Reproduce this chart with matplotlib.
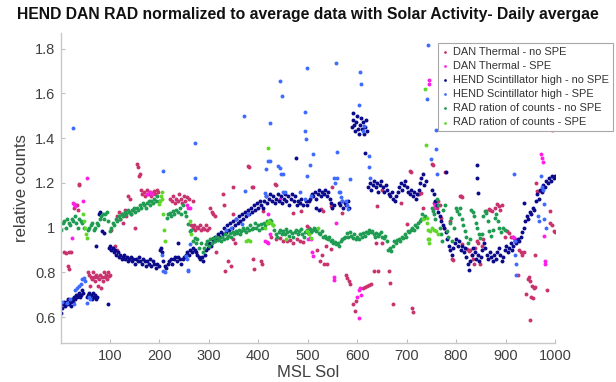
import matplotlib
matplotlib.use("Agg")
import matplotlib.pyplot as plt

# ---------------- data ----------------
hend_nospe_sol = [2,3,5,7,9,11,13,15,17,19,21,23,25,27,29,31,33,35,37,39,41,43,45,53,55,57,59,61,63,65,67,69,71,73,
    72,77,80,84,87,96,
    98,101,103,106,108,111,113,116,118,121,124,126,129,131,134,137,139,142,145,147,150,153,156,158,161,164,167,170,172,175,178,181,184,187,190,193,196,199,
    201,203,205,208,211,214,217,220,223,226,229,232,235,238,241,244,247,250,237,
    253,256,259,262,265,268,271,274,277,280,283,286,289,292,295,
    298,301,304,307,310,313,316,319,322,325,328,331,334,337,340,343,346,349,352,355,358,361,364,367,370,373,376,379,382,385,388,391,394,397,400,403,406,409,
    412,415,418,421,424,427,430,433,436,439,442,445,448,451,454,457,460,463,466,469,472,475,478,481,484,487,490,496,499,502,505,
    508,511,514,517,520,523,526,529,532,535,538,541,544,547,550,553,516,522,
    563,566,569,572,575,578,581,584,
    589,591,592,594,596,598,600,602,604,606,608,610,612,614,616,618,620,477,615,
    622,625,628,631,634,637,640,643,646,649,652,655,658,661,664,667,670,673,676,679,682,685,688,691,694,697,700,703,706,709,712,715,718,721,724,727,730,733,736,739,
    752,755,758,761,764,767,770,773,776,779,782,785,788,791,794,797,800,803,806,809,812,815,818,821,824,826,829,832,835,838,841,844,847,850,853,856,859,862,865,868,871,874,877,880,883,886,889,892,895,898,901,904,907,910,913,916,919,922,925,928,931,934,937,940,943,946,949,952,955,958,961,964,967,970,973,976,979,982,985,988,991,994,997,1000,
    779,842,843,844,937]
hend_nospe_val = [0.62,0.64,0.66,0.67,0.65,0.67,0.66,0.68,0.66,0.67,0.65,0.68,0.67,0.69,0.68,0.70,0.69,0.70,0.71,0.69,0.70,0.72,0.71,0.69,0.70,0.71,0.69,0.70,0.68,0.71,0.69,0.70,0.68,0.69,
    0.92,1.06,1.07,0.985,0.975,0.66,
    0.91,0.92,0.90,0.91,0.89,0.90,0.88,0.89,0.87,0.88,0.86,0.87,0.88,0.86,0.87,0.85,0.86,0.87,0.85,0.86,0.84,0.86,0.85,0.87,0.85,0.84,0.86,0.85,0.83,0.85,0.84,0.86,0.83,0.85,0.84,0.82,0.84,0.83,
    0.90,0.91,0.89,0.85,0.83,0.82,0.84,0.85,0.86,0.84,0.86,0.87,0.85,0.87,0.86,0.84,0.86,0.87,0.93,
    0.88,0.89,0.88,0.90,0.89,0.91,0.90,0.89,0.88,0.87,0.86,0.87,0.85,0.88,0.90,
    0.91,0.93,0.92,0.95,0.94,0.96,0.95,0.97,0.96,0.98,0.97,1.00,0.98,1.01,0.99,1.02,1.00,1.03,1.01,1.04,1.02,1.05,1.03,1.06,1.04,1.07,1.05,1.08,1.06,1.09,1.07,1.10,1.08,1.11,1.09,1.12,1.10,1.09,
    1.12,1.14,1.11,1.13,1.15,1.12,1.14,1.11,1.13,1.15,1.12,1.14,1.11,1.13,1.15,1.12,1.14,1.10,1.13,1.15,1.12,1.14,1.10,1.12,1.11,1.13,1.10,1.12,1.10,1.12,1.13,
    1.15,1.14,1.16,1.13,1.15,1.17,1.14,1.16,1.15,1.17,1.14,1.16,1.13,1.11,1.09,1.10,1.09,1.08,
    1.11,1.10,1.12,1.09,1.11,1.10,1.12,1.09,
    1.45,1.48,1.51,1.46,1.43,1.47,1.50,1.44,1.42,1.46,1.49,1.44,1.47,1.42,1.45,1.48,1.43,1.31,1.335,
    1.18,1.20,1.17,1.19,1.21,1.18,1.20,1.16,1.19,1.21,1.18,1.16,1.19,1.17,1.15,1.14,1.16,1.13,1.12,1.14,1.16,1.18,1.20,1.17,1.19,1.21,1.18,1.16,1.15,1.17,1.14,1.16,1.13,1.15,1.17,1.20,1.22,1.24,1.19,1.21,
    1.17,1.15,1.12,1.10,1.07,1.05,1.03,1.01,1.00,0.98,0.95,0.92,0.90,0.88,0.91,0.93,0.95,0.92,0.94,0.90,0.92,0.89,0.91,0.87,0.84,0.81,0.85,0.88,0.91,0.89,0.86,0.88,0.85,0.87,0.90,0.93,0.91,0.88,0.86,0.89,0.87,0.85,0.88,0.86,0.89,0.91,0.88,0.85,0.87,0.90,0.92,0.89,0.91,0.93,0.90,0.92,0.94,0.93,0.95,0.94,0.96,0.98,1.00,1.03,1.05,1.04,1.07,1.06,1.09,1.08,1.12,1.15,1.13,1.17,1.16,1.19,1.18,1.21,1.20,1.22,1.21,1.23,1.22,1.23,
    1.25,1.28,1.22,1.155,1.11]

hend_spe_sol = [4,14,20,25,27,30,33,38,41,44,47,50,54,57,60,
    207,206,208,211,253,255,257,258,262,273,273,335,345,355,367,380,
    371,373,413,415,415,420,423,424,440,444,444,446,448,449,450,455,484,494,494,495,496,498,498,504,510,507,
    553,556,558,559,560,563,567,577,579,581,585,604,605,607,611,613,624,624,625,566,570,
    743,742,760,760,750,762,918,919,920,921,922,972,974,975,977,978,981,968,965]
hend_spe_val = [0.67,0.665,0.68,1.445,0.66,0.72,0.73,0.74,0.75,0.77,0.775,0.76,0.665,0.69,0.68,
    1.253,0.88,0.807,0.80,0.875,0.86,0.81,0.807,0.927,1.38,1.22,0.99,1.0,1.04,1.017,1.06,
    1.50,1.164,1.155,1.26,1.14,1.30,1.466,1.30,1.275,1.655,1.265,1.24,1.59,1.24,1.16,1.16,1.16,1.516,1.13,1.43,1.395,1.714,1.23,1.28,1.33,1.14,
    1.22,1.20,1.734,1.338,1.22,1.16,1.135,1.12,1.10,1.085,1.216,1.55,1.696,1.64,1.43,1.455,1.32,1.27,1.22,1.16,1.12,
    1.816,1.573,1.435,1.35,1.305,1.238,1.24,0.94,0.88,0.84,0.79,1.23,1.18,1.17,1.105,1.04,1.0,1.03,1.05]

dan_nospe_sol = [8,12,17,22,16,18,37,38,28,31,33,36,
    56,58,60,62,64,66,68,70,72,74,76,78,80,82,84,86,88,90,92,94,96,98,100,
    103,106,110,114,
    114,118,121,124,127,130,133,136,140,143,146,150,
    154,156,158,160,
    162,165,168,171,174,177,180,183,186,189,192,195,198,
    222,225,228,231,234,237,240,243,246,249,252,255,260,268,
    264,267,270,273,276,279,282,285,288,291,294,297,300,
    303,306,309,312,314,328,330,332,338,344,349,349,349,352,379,382,387,389,390,392,405,407,409,433,436,470,486,
    425,435,444,450,458,464,470,478,484,490,498,502,518,525,528,532,538,526,530,546,550,537,547,570,
    577,580,583,586,591,595,597,611,615,619,623,627,633,643,641,651,651,638,664,666,672,688,700,706,708,710,712,723,725,730,733,
    751,753,755,758,761,764,767,770,775,778,787,791,793,808,810,812,812,822,826,828,832,834,836,838,842,845,848,852,855,861,866,869,872,878,883,886,889,892,
    898,902,906,910,915,925,928,931,934,937,941,945,947,949,950,951,953,955,958,960,962,964,967,960,983,989,990,993,993,997,999]
dan_nospe_val = [0.89,0.885,0.89,0.89,0.83,0.815,1.19,1.195,1.09,1.10,1.10,1.08,
    0.80,0.79,0.74,0.78,0.77,0.80,0.78,0.76,0.79,0.78,0.74,0.77,0.79,0.73,0.78,0.76,0.80,0.78,0.79,0.77,0.80,0.785,0.79,
    0.99,0.91,0.92,0.90,
    1.05,1.07,1.04,1.06,1.02,1.08,1.05,1.14,1.13,1.06,1.08,1.00,
    1.285,1.27,1.23,1.24,
    1.17,1.15,1.16,1.14,1.17,1.15,1.16,1.14,1.155,1.165,1.15,1.17,1.16,
    1.13,1.12,1.14,1.11,1.13,1.12,1.15,1.13,1.11,1.14,1.12,1.135,1.13,1.12,
    1.01,1.00,1.01,0.99,1.005,1.00,1.01,0.99,1.00,0.995,1.01,0.99,1.00,
    1.09,1.07,1.06,1.05,0.89,1.15,1.10,0.807,0.85,0.83,1.06,1.18,0.95,0.93,1.276,1.27,1.18,1.18,0.86,0.815,0.85,0.84,1.075,1.195,1.19,1.067,1.075,
    0.96,0.95,0.955,0.94,0.94,0.945,0.93,0.95,0.94,0.935,1.007,1.00,0.90,0.85,0.88,0.84,0.84,1.085,1.075,1.097,1.18,0.92,0.905,1.067,
    0.79,0.775,0.76,0.75,0.66,0.63,0.673,0.73,0.735,0.74,0.745,0.75,0.807,0.807,1.097,1.17,0.93,0.93,0.807,0.755,0.66,1.11,1.017,1.253,1.25,0.64,0.625,1.15,1.15,1.155,1.09,
    1.284,1.28,1.11,1.10,1.09,1.12,1.10,1.045,1.00,1.25,1.03,0.86,0.855,1.14,1.14,1.135,0.926,0.905,0.895,0.90,0.88,0.86,0.84,0.91,0.94,0.93,0.84,0.92,0.95,1.075,1.085,1.08,1.075,1.09,1.105,1.095,1.08,1.10,
    0.96,0.985,0.975,0.96,0.96,0.79,0.90,0.89,0.88,0.89,0.705,0.77,0.78,0.59,0.76,0.69,0.74,0.685,0.73,0.735,1.20,1.165,1.165,0.88,0.72,1.02,1.075,1.01,1.435,0.985,0.98]

dan_spe_sol = [24,25,27,29,46,53,175,180,185,255,258,262,414,418,420,420,424,444,500,504,506,508,508,510,553,554,557,599,603,603,605,607,745,746,755,757,915,918,920,972,974,976,977,979,980]
dan_spe_val = [0.955,1.11,1.105,1.097,1.12,1.22,1.15,1.16,1.15,1.10,1.09,1.09,0.94,0.935,0.93,1.06,0.97,1.13,0.95,0.955,0.95,0.89,1.14,0.875,0.78,0.765,1.02,0.69,0.597,0.72,0.73,0.70,1.66,1.64,1.09,1.105,0.96,0.955,0.948,1.33,1.31,1.295,0.963,0.85,0.84]

rad_nospe_sol = [2,5,8,11,14,17,20,23,26,29,32,35,38,41,44,47,55,58,61,64,67,70,73,76,79,82,85,88,91,94,97,100,103,106,109,112,115,118,121,124,127,130,133,136,139,142,145,148,151,154,157,160,163,166,169,172,175,178,181,184,187,190,193,196,199,
    215,218,221,224,227,230,234,237,241,244,247,251,254,258,261,264,268,271,274,277,281,284,288,291,294,297,300,303,306,309,312,315,318,321,324,327,330,333,336,339,342,345,348,351,354,357,360,363,366,369,372,375,378,381,384,387,390,393,396,399,402,405,408,411,
    414,417,420,423,426,429,432,435,438,441,444,447,450,453,456,459,462,465,468,471,474,477,480,483,486,489,492,495,498,501,504,507,510,513,516,519,522,525,528,531,534,537,540,543,546,549,552,555,558,561,564,567,570,573,576,579,582,585,588,591,594,597,600,603,606,609,612,615,618,621,624,627,630,633,636,639,642,645,648,651,654,657,660,663,666,669,672,675,678,681,684,687,690,693,696,699,702,705,708,711,714,717,720,723,726,729,732,735,738,
    751,753,755,758,761,764,767,769,771,774,777,781,784,787,790,792,795,799,802,805,808,811,814,817,820,824,828,831,834,837,840,843,846,849,852,855,858,861,864,867,870,874,878,881,884,887,890,894,898]
rad_nospe_val = [0.99,1.02,1.03,1.00,1.04,1.02,1.01,1.04,1.03,1.05,1.02,1.00,1.04,1.03,1.02,1.00,0.99,1.00,1.01,1.02,0.99,1.00,1.02,1.01,1.04,1.05,1.06,1.04,1.06,1.07,1.03,0.985,1.00,1.02,1.01,1.04,1.03,1.05,1.04,1.06,1.05,1.07,1.06,1.08,1.07,1.06,1.08,1.09,1.07,1.09,1.08,1.10,1.09,1.11,1.10,1.09,1.11,1.12,1.10,1.12,1.11,1.13,1.12,1.14,1.12,
    1.045,1.06,1.067,1.05,1.075,1.06,1.08,1.07,1.09,1.06,1.10,1.07,1.05,1.017,0.985,0.99,0.94,0.955,0.93,0.95,0.91,0.93,0.89,0.91,0.925,0.94,0.92,0.95,0.93,0.955,0.94,0.96,0.945,0.955,0.94,0.96,0.95,0.97,0.955,0.965,0.975,0.96,0.98,0.97,0.985,0.975,0.99,0.97,0.985,1.00,0.99,0.98,1.00,0.99,1.01,0.995,1.00,1.02,1.00,1.01,0.99,1.015,1.00,1.02,
    1.01,1.03,1.02,1.035,1.03,1.01,0.99,0.97,0.96,0.98,0.99,0.97,0.985,0.97,0.995,0.98,0.965,0.985,0.975,0.96,0.98,0.99,0.97,0.985,0.995,0.97,0.96,0.98,0.99,0.975,0.995,0.98,0.99,1.00,0.985,0.995,0.975,0.97,0.985,0.96,0.965,0.955,0.95,0.96,0.94,0.945,0.93,0.935,0.925,0.93,0.92,0.94,0.95,0.955,0.96,0.975,0.96,0.98,0.965,0.955,0.97,0.95,0.96,0.95,0.97,0.96,0.975,0.965,0.98,0.975,0.99,0.98,0.985,0.97,0.96,0.975,0.965,0.97,0.98,0.96,0.955,0.965,0.94,0.90,0.91,0.895,0.92,0.94,0.93,0.945,0.95,0.94,0.96,0.955,0.97,0.96,0.985,0.98,0.99,1.00,0.99,1.01,1.005,1.02,1.03,1.04,1.06,1.045,1.05,
    1.09,1.075,1.06,1.04,1.13,1.10,1.00,0.97,0.94,1.08,1.10,0.985,0.96,1.02,1.045,0.94,1.00,1.09,1.075,1.06,1.09,1.04,1.01,0.985,0.96,0.93,0.95,1.08,1.07,1.05,1.02,1.00,0.97,0.955,0.97,1.05,1.075,1.065,1.03,0.985,0.965,0.99,1.045,1.06,1.03,1.00,0.98,1.00,0.99]

rad_spe_sol = [45,48,50,52,53,200,202,204,205,206,208,210,211,262,264,376,380,383,413,417,420,422,426,430,457,498,502,506,520,737,739,734,742,741,743,744,745,746,748,752,756,760,763]
rad_spe_val = [1.06,1.03,1.00,0.97,0.955,1.106,1.12,1.14,1.16,1.13,1.06,0.99,0.94,1.03,0.97,0.94,0.945,0.94,1.00,1.02,1.357,1.03,1.02,1.01,0.95,0.985,0.97,0.955,1.00,1.62,1.37,1.04,1.045,1.02,0.99,0.95,0.93,0.95,0.985,1.00,0.99,0.985,0.97]

series = [
    ("DAN Thermal - no SPE", dan_nospe_sol, dan_nospe_val, "#C8336E"),
    ("DAN Thermal - SPE", dan_spe_sol, dan_spe_val, "#FF1EE6"),
    ("HEND Scintillator high - no SPE", hend_nospe_sol, hend_nospe_val, "#0A0A8A"),
    ("HEND Scintillator high - SPE", hend_spe_sol, hend_spe_val, "#3F6BFF"),
    ("RAD ration of counts - no SPE", rad_nospe_sol, rad_nospe_val, "#1F9B52"),
    ("RAD ration of counts - SPE", rad_spe_sol, rad_spe_val, "#5FD82A"),
]
x_ticks = [100, 200, 300, 400, 500, 600, 700, 800, 900, 1000]
y_ticks = [0.6, 0.8, 1.0, 1.2, 1.4, 1.6, 1.8]
y_tick_labels = ["0.6", "0.8", "1", "1.2", "1.4", "1.6", "1.8"]

# ---------------- figure ----------------
plt.rcParams['font.family'] = ['Liberation Sans', 'DejaVu Sans']
fig = plt.figure(figsize=(6.16, 3.82), dpi=100)
ax = fig.add_axes([0.099, 0.102, 0.802, 0.812])

for label, xs, ys, col in series:
    ax.scatter(xs, ys, s=8, c=col, linewidths=0, label=label, zorder=2)

ax.set_xlim(1, 1000)
ax.set_ylim(0.485, 1.87)
ax.set_xticks(x_ticks)
ax.set_yticks(y_ticks)
ax.set_yticklabels(y_tick_labels)
for side in ("top", "right"):
    ax.spines[side].set_visible(False)
for side in ("left", "bottom"):
    ax.spines[side].set_color("#C8C8C8")
    ax.spines[side].set_linewidth(1.0)
ax.tick_params(direction="in", length=3, width=0.8, color="#C0C0C0",
               labelsize=10.5, labelcolor="#404040", pad=4)
ax.set_xlabel("MSL Sol", fontsize=12, color="#404040", labelpad=2)
ax.set_ylabel("relative counts", fontsize=12, color="#404040", labelpad=4)
fig.text(0.5, 0.963, "HEND DAN RAD normalized to average data with Solar Activity- Daily avergae",
         ha="center", va="center", fontsize=11.3, fontweight="bold", color="#111111")

leg = ax.legend(loc="upper right", bbox_to_anchor=(1.117, 0.968), fontsize=7.9,
                frameon=True, fancybox=False, edgecolor="#A8A8A8", framealpha=1,
                handlelength=0.6, handletextpad=0.45, borderpad=0.35, labelspacing=0.38,
                markerscale=0.7, borderaxespad=0)
leg.get_frame().set_linewidth(0.8)
for t in leg.get_texts():
    t.set_color("#333333")

fig.savefig("out.png", dpi=100)
